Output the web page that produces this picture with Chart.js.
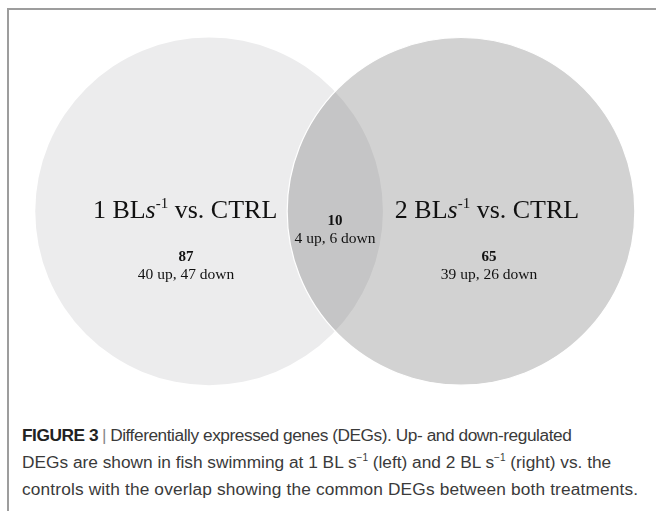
<!DOCTYPE html>
<html>
<head>
<meta charset="utf-8">
<script src="https://cdn.jsdelivr.net/npm/chart.js@4/dist/chart.umd.min.js"></script>
<style>
  html, body { margin: 0; padding: 0; background: #fff; }
  #page { position: relative; width: 656px; height: 511px; overflow: hidden; }
  #frame { position: absolute; left: 7px; top: 8px; width: 700px; height: 600px;
           border-top: 2px solid #9d9d9d; border-left: 2px solid #9d9d9d; }
  #wrap { position: absolute; left: 0; top: 0; width: 656px; height: 400px; }
  #caption { position: absolute; left: 22px; top: 422px; font-family: "Liberation Sans", Arial, sans-serif;
             font-size: 17.3px; line-height: 27px; color: #3a3a3a; white-space: nowrap; }
  #caption .l1 { letter-spacing: -0.45px; }
  #caption .l3 { letter-spacing: 0.15px; }
  #caption b { color: #222; }
  #caption .bar { color: #888; margin: 0 4px; }
  #caption sup { font-size: 10px; line-height: 0; vertical-align: 7px; }
</style>
</head>
<body>
<div id="page">
  <div id="frame"></div>
  <div id="wrap"><canvas id="venn"></canvas></div>
  <div id="caption"><span class="l1"><b>FIGURE 3</b><span class="bar">|</span>Differentially expressed genes (DEGs). Up- and down-regulated</span><br>DEGs are shown in fish swimming at 1 BL s<sup>−1</sup> (left) and 2 BL s<sup>−1</sup> (right) vs. the<br><span class="l3">controls with the overlap showing the common DEGs between both treatments.</span></div>
</div>
<script>
// Venn: DEGs per swimming speed vs. control
const setSpeeds = ["1", "2"];          // BL s-1
const setCenters = [0, 1];             // position of each set along x
const uniqueUp = [40, 39];
const uniqueDown = [47, 26];
const sharedUp = [4];
const sharedDown = [6];

const circleRadius = 0.69; // in units of the centre distance
const serif = '"Liberation Serif", "Times New Roman", serif';

function drawSetLabel(ctx, speed, cx, baseline) {
  const parts = [
    { t: speed + " BL", f: "26px " + serif, dy: 0 },
    { t: "s", f: "italic 26px " + serif, dy: 0 },
    { t: "-1", f: "15px " + serif, dy: -10 },
    { t: " vs. CTRL", f: "26px " + serif, dy: 0 },
  ];
  let total = 0;
  parts.forEach((p) => { ctx.font = p.f; p.w = ctx.measureText(p.t).width; total += p.w; });
  let px = cx - total / 2;
  ctx.textAlign = "left";
  parts.forEach((p) => {
    ctx.font = p.f;
    ctx.fillText(p.t, px, baseline + p.dy);
    px += p.w;
  });
}

function drawCount(ctx, up, down, cx, baseline) {
  ctx.textAlign = "center";
  ctx.font = "bold 15px " + serif;
  ctx.fillText(String(up + down), cx, baseline);
  ctx.font = "15.5px " + serif;
  ctx.fillText(up + " up, " + down + " down", cx, baseline + 18);
}

const vennText = {
  id: "vennText",
  afterDatasetsDraw(chart) {
    const { ctx, scales: { x, y } } = chart;
    const cy = y.getPixelForValue(0);
    ctx.save();
    ctx.fillStyle = "#111";
    ctx.textBaseline = "alphabetic";
    setSpeeds.forEach((s, i) => {
      const cx = x.getPixelForValue(setCenters[i]) + (i === 0 ? -24 : 26);
      drawSetLabel(ctx, s, cx, cy + 7);
      drawCount(ctx, uniqueUp[i], uniqueDown[i], cx + (i === 0 ? 1 : 2), cy + 50);
    });
    const mid = x.getPixelForValue((setCenters[0] + setCenters[1]) / 2);
    drawCount(ctx, sharedUp[0], sharedDown[0], mid, cy + 14);
    ctx.restore();
  },
};

const chart = new Chart(document.getElementById("venn").getContext("2d"), {
  type: "bubble",
  data: {
    datasets: [
      {
        data: setCenters.map((c) => ({ x: c, y: 0, r: 1 })),
        backgroundColor: ["#ececed", "rgba(116,116,116,0.32)"],
        borderColor: ["rgba(0,0,0,0)", "#ffffff"],
        borderWidth: 1.2,
        clip: false,
      },
    ],
  },
  options: {
    responsive: true,
    maintainAspectRatio: false,
    animation: false,
    events: [],
    layout: { padding: 0, autoPadding: false },
    plugins: { legend: { display: false }, tooltip: { enabled: false } },
    scales: {
      x: { type: "linear", min: -0.83, max: 1.774, display: false },
      y: { type: "linear", min: -0.75, max: 0.84, display: false },
    },
  },
  plugins: [vennText],
});

// bubble radius is in pixels: take it from the x scale
const sx = chart.scales.x;
const rPx = sx.getPixelForValue(circleRadius) - sx.getPixelForValue(0);
chart.data.datasets[0].data.forEach((p) => { p.r = rPx; });
chart.update();
</script>
</body>
</html>
